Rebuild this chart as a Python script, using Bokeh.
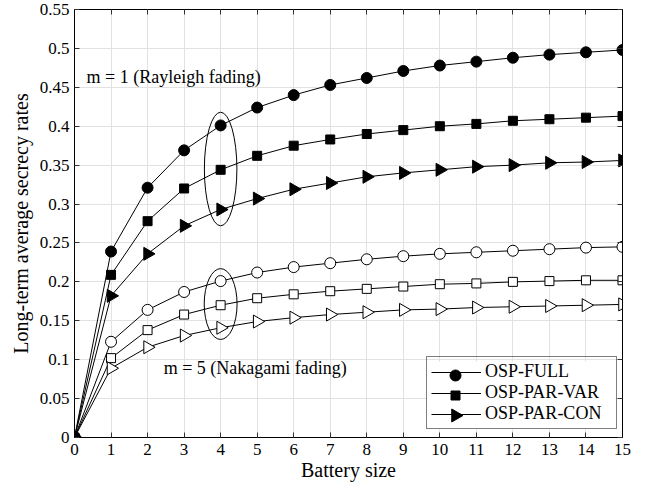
import math
from bokeh.plotting import figure
from bokeh.models import Legend, LegendItem, Label, LinearAxis, CustomJSTickFormatter, FixedTicker
from bokeh.embed import file_html
from bokeh.resources import INLINE

battery = list(range(16))

full_m1 = [0, 0.239, 0.321, 0.369, 0.401, 0.424, 0.440, 0.453, 0.462, 0.471, 0.478, 0.483, 0.488, 0.492, 0.495, 0.498]
var_m1 = [0, 0.209, 0.278, 0.320, 0.344, 0.362, 0.375, 0.383, 0.390, 0.395, 0.400, 0.403, 0.407, 0.409, 0.411, 0.413]
con_m1 = [0, 0.182, 0.236, 0.272, 0.293, 0.307, 0.319, 0.327, 0.335, 0.340, 0.344, 0.348, 0.350, 0.353, 0.354, 0.356]

full_m5 = [0, 0.123, 0.164, 0.187, 0.201, 0.212, 0.219, 0.224, 0.229, 0.233, 0.236, 0.238, 0.240, 0.242, 0.244, 0.245]
var_m5 = [0, 0.102, 0.138, 0.158, 0.170, 0.179, 0.184, 0.188, 0.191, 0.194, 0.197, 0.198, 0.200, 0.201, 0.202, 0.202]
con_m5 = [0, 0.089, 0.116, 0.131, 0.141, 0.149, 0.154, 0.158, 0.161, 0.164, 0.165, 0.167, 0.168, 0.169, 0.170, 0.171]

series_names = ["OSP-FULL", "OSP-PAR-VAR", "OSP-PAR-CON"]
x_ticks = list(range(16))
y_ticks = [0, 0.05, 0.1, 0.15, 0.2, 0.25, 0.3, 0.35, 0.4, 0.45, 0.5, 0.55]
y_tick_labels = ["0", "0.05", "0.1", "0.15", "0.2", "0.25", "0.3", "0.35", "0.4", "0.45", "0.5", "0.55"]

FONT = "Liberation Serif"

X0, X1, Y0, Y1 = 0, 15, 0, 0.55
FW, FH = 548, 428  # frame size in px (648-74-26, 491-9-54)

p = figure(width=648, height=491, output_backend="svg", toolbar_location=None,
           x_range=(X0, X1), y_range=(Y0, Y1),
           min_border_left=74, min_border_right=26, min_border_top=9, min_border_bottom=54)

p.outline_line_color = "black"
p.outline_line_width = 1
p.background_fill_color = "white"
p.border_fill_color = "white"

p.xaxis.ticker = FixedTicker(ticks=x_ticks)
p.yaxis.ticker = FixedTicker(ticks=y_ticks)
p.yaxis.major_label_overrides = {t: l for t, l in zip(y_ticks, y_tick_labels)}
for ax in (p.xaxis, p.yaxis):
    ax.major_tick_in = 5
    ax.major_tick_out = 0
    ax.minor_tick_in = 0
    ax.minor_tick_out = 0
    ax.axis_line_color = "black"
    ax.major_tick_line_color = "#333333"
    ax.major_label_text_font = FONT
    ax.major_label_text_font_size = "17px"
    ax.major_label_text_color = "black"
    ax.axis_label_text_font = FONT
    ax.axis_label_text_font_size = "20px"
    ax.axis_label_text_font_style = "normal"
    ax.axis_label_text_color = "black"
p.xaxis.axis_label = "Battery size"
p.yaxis.axis_label = "Long-term average secrecy rates"
p.xaxis.major_label_standoff = 6
p.yaxis.major_label_standoff = 5
p.xaxis.axis_label_standoff = 1
p.yaxis.axis_label_standoff = 5

p.xgrid.ticker = FixedTicker(ticks=x_ticks)
p.ygrid.ticker = FixedTicker(ticks=y_ticks)
p.grid.grid_line_color = "#e2e2e2"
p.grid.grid_line_width = 1

blank = CustomJSTickFormatter(code="return ''")
top_ax = LinearAxis(ticker=FixedTicker(ticks=x_ticks), formatter=blank,
                    major_tick_in=5, major_tick_out=0, minor_tick_in=0, minor_tick_out=0,
                    major_label_standoff=0, axis_line_color="black", major_tick_line_color="#333333",
                    major_label_text_font_size="1px")
right_ax = LinearAxis(ticker=FixedTicker(ticks=y_ticks), formatter=blank,
                      major_tick_in=5, major_tick_out=0, minor_tick_in=0, minor_tick_out=0,
                      major_label_standoff=0, axis_line_color="black", major_tick_line_color="#333333",
                      major_label_text_font_size="1px")
p.add_layout(top_ax, "above")
p.add_layout(right_ax, "right")

tri_angle = -math.pi / 2
styles = [("circle", 11, 0.0), ("square", 9, 0.0), ("triangle", 13, tri_angle)]

line_renderers = []
# m = 1 (filled markers)
for ys, (marker, size, ang) in zip([full_m1, var_m1, con_m1], styles):
    ln = p.line(battery, ys, line_color="black", line_width=1)
    p.scatter(battery, ys, marker=marker, size=size, angle=ang, fill_color="black", line_color="black")
    line_renderers.append(ln)

# m = 5 (open markers)
for ys, (marker, size, ang) in zip([full_m5, var_m5, con_m5], styles):
    p.line(battery, ys, line_color="black", line_width=1)
    p.scatter(battery[1:], ys[1:], marker=marker, size=size, angle=ang,
              fill_color="white", line_color="black", line_width=1)
    p.scatter(battery[:1], ys[:1], marker="circle", size=11, fill_color="black", line_color="black")

# ellipses around battery size 4
p.ellipse(x=[4], y=[0.345], width=[0.89], height=[0.146], fill_color=None, line_color="black", line_width=1)
p.ellipse(x=[4], y=[0.1715], width=[0.90], height=[0.091], fill_color=None, line_color="black", line_width=1)

p.add_layout(Label(x=0.33, y=0.4627, text="m = 1 (Rayleigh fading)", text_font=FONT,
                   text_font_size="18px", text_baseline="middle", text_color="black"))
p.add_layout(Label(x=2.44, y=0.0887, text="m = 5 (Nakagami fading)", text_font=FONT,
                   text_font_size="18px", text_baseline="middle", text_color="black"))

# legend: transparent Legend draws border, lines and labels; a white box and the
# markers are drawn beneath it (legend glyphs are never rotated in Bokeh)
LEG_X, LEG_Y, PAD, ROW, GW, STANDOFF, LW = 352, 8, 4, 20, 50, 4, 127
leg_w = 2 * PAD + GW + STANDOFF + LW
leg_h = 2 * PAD + 3 * ROW
sx = (X1 - X0) / FW
sy = (Y1 - Y0) / FH
p.quad(left=[X0 + LEG_X * sx], right=[X0 + (LEG_X + leg_w) * sx],
       bottom=[Y0 + LEG_Y * sy], top=[Y0 + (LEG_Y + leg_h) * sy],
       fill_color="white", line_color=None)
leg_cx = X0 + (LEG_X + PAD + GW / 2) * sx
for i, (marker, size, ang) in enumerate(styles):
    cy = Y0 + (LEG_Y + leg_h - PAD - ROW * (i + 0.5)) * sy
    p.scatter([leg_cx], [cy], marker=marker, size=size, angle=ang,
              fill_color="black", line_color="black")

legend = Legend(items=[LegendItem(label=n, renderers=[r]) for n, r in zip(series_names, line_renderers)],
                location=(LEG_X, LEG_Y), orientation="vertical",
                label_text_font=FONT, label_text_font_size="18px", label_text_color="black",
                glyph_width=GW, glyph_height=ROW, label_height=ROW, label_width=LW,
                label_standoff=STANDOFF, spacing=0, padding=PAD, margin=0,
                border_line_color="black", border_line_width=1,
                background_fill_alpha=0)
p.add_layout(legend, "center")

open("out.html", "w").write(file_html(p, INLINE))
